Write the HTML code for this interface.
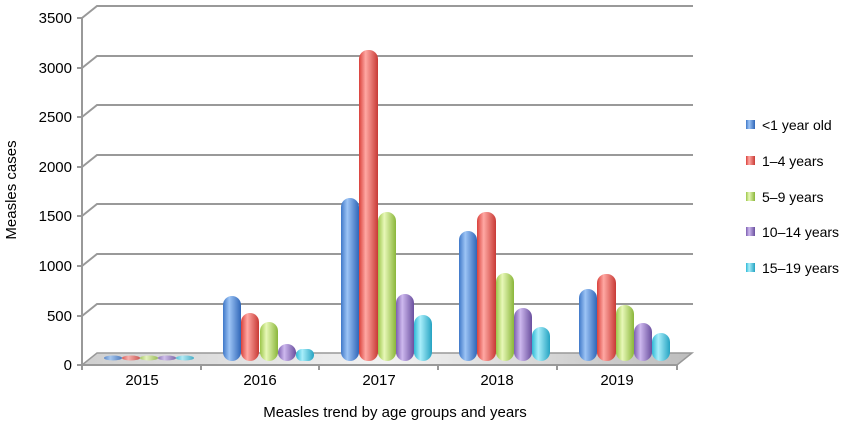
<!DOCTYPE html>
<html><head><meta charset="utf-8"><style>
body{margin:0;background:#fff}
svg{display:block;font-family:"Liberation Sans",Arial,sans-serif}
</style></head><body>
<svg width="850" height="428" viewBox="0 0 850 428">
<defs>
<linearGradient id="gb" x1="0" x2="1"><stop offset="0" stop-color="#3f78c8"/><stop offset=".35" stop-color="#9cc4f5"/><stop offset="1" stop-color="#2f66b8"/></linearGradient>
<linearGradient id="gr" x1="0" x2="1"><stop offset="0" stop-color="#d9413b"/><stop offset=".35" stop-color="#ffa8a3"/><stop offset="1" stop-color="#c83a35"/></linearGradient>
<linearGradient id="gg" x1="0" x2="1"><stop offset="0" stop-color="#9cc64a"/><stop offset=".35" stop-color="#e8f8b8"/><stop offset="1" stop-color="#8ab63a"/></linearGradient>
<linearGradient id="gp" x1="0" x2="1"><stop offset="0" stop-color="#7c5fb0"/><stop offset=".35" stop-color="#cdb8ee"/><stop offset="1" stop-color="#6a4f9e"/></linearGradient>
<linearGradient id="gc" x1="0" x2="1"><stop offset="0" stop-color="#2fb8d6"/><stop offset=".35" stop-color="#a8eefa"/><stop offset="1" stop-color="#25a3c2"/></linearGradient>
<linearGradient id="gf" x1="0" x2="1"><stop offset="0" stop-color="#cfcfcf"/><stop offset=".5" stop-color="#f2f2f2"/><stop offset="1" stop-color="#bdbdbd"/></linearGradient>
</defs>
<g stroke="#999" stroke-width="2" fill="none">
<path d="M82,18 L97,6 H693"/><path d="M82,68 L97,56 H693"/><path d="M82,117 L97,105 H693"/>
<path d="M82,167 L97,155 H693"/><path d="M82,216 L97,204 H693"/><path d="M82,266 L97,254 H693"/><path d="M82,316 L97,304 H693"/>
<line x1="82" y1="18" x2="82" y2="366"/>
</g>
<path d="M82,365 L97,353 H692 L677,365 Z" fill="url(#gf)" stroke="#999" stroke-width="1.5"/>
<g stroke="#999" stroke-width="2">
<line x1="82" y1="365" x2="677" y2="365"/>
<line x1="82" y1="365" x2="82" y2="370"/><line x1="201" y1="365" x2="201" y2="370"/><line x1="319" y1="365" x2="319" y2="370"/>
<line x1="438" y1="365" x2="438" y2="370"/><line x1="557" y1="365" x2="557" y2="370"/><line x1="677" y1="365" x2="677" y2="370"/>
<line x1="77" y1="18" x2="82" y2="18"/><line x1="77" y1="68" x2="82" y2="68"/><line x1="77" y1="117" x2="82" y2="117"/><line x1="77" y1="167" x2="82" y2="167"/><line x1="77" y1="216" x2="82" y2="216"/><line x1="77" y1="266" x2="82" y2="266"/><line x1="77" y1="316" x2="82" y2="316"/><line x1="77" y1="365" x2="82" y2="365"/>
</g>
<g font-size="15" fill="#000" text-anchor="end">
<text x="72" y="23">3500</text><text x="72" y="73">3000</text><text x="72" y="122">2500</text><text x="72" y="172">2000</text><text x="72" y="221">1500</text><text x="72" y="271">1000</text><text x="72" y="321">500</text><text x="72" y="370">0</text>
</g>
<g font-size="15" fill="#000" text-anchor="middle">
<text x="142" y="385">2015</text><text x="260" y="385">2016</text><text x="379" y="385">2017</text><text x="497" y="385">2018</text><text x="617" y="385">2019</text>
<text x="395" y="417">Measles trend by age groups and years</text>
<text transform="translate(16,190) rotate(-90)">Measles cases</text>
</g>
<g opacity=".8">
<ellipse cx="113" cy="358" rx="9" ry="2.5" fill="url(#gb)"/><ellipse cx="131" cy="358" rx="9" ry="2.5" fill="url(#gr)"/><ellipse cx="149" cy="358" rx="9" ry="2.5" fill="url(#gg)"/><ellipse cx="167" cy="358" rx="9" ry="2.5" fill="url(#gp)"/><ellipse cx="185" cy="358" rx="9" ry="2.5" fill="url(#gc)"/>
</g>
<g id="bars">
<!-- 2016 -->
<rect x="223" y="296" width="18" height="65" rx="9" fill="url(#gb)"/>
<rect x="241" y="313" width="18" height="48" rx="9" fill="url(#gr)"/>
<rect x="260" y="322" width="18" height="39" rx="9" fill="url(#gg)"/>
<rect x="278" y="344" width="18" height="17" rx="9" fill="url(#gp)"/>
<rect x="296" y="349" width="18" height="12" rx="6" fill="url(#gc)"/>
<!-- 2017 -->
<rect x="341" y="198" width="18" height="163" rx="9" fill="url(#gb)"/>
<rect x="359" y="50" width="19" height="311" rx="9" fill="url(#gr)"/>
<rect x="378" y="212" width="18" height="149" rx="9" fill="url(#gg)"/>
<rect x="396" y="294" width="18" height="67" rx="9" fill="url(#gp)"/>
<rect x="414" y="315" width="18" height="46" rx="9" fill="url(#gc)"/>
<!-- 2018 -->
<rect x="459" y="231" width="18" height="130" rx="9" fill="url(#gb)"/>
<rect x="477" y="212" width="19" height="149" rx="9" fill="url(#gr)"/>
<rect x="496" y="273" width="18" height="88" rx="9" fill="url(#gg)"/>
<rect x="514" y="308" width="18" height="53" rx="9" fill="url(#gp)"/>
<rect x="532" y="327" width="18" height="34" rx="9" fill="url(#gc)"/>
<!-- 2019 -->
<rect x="579" y="289" width="18" height="72" rx="9" fill="url(#gb)"/>
<rect x="597" y="274" width="19" height="87" rx="9" fill="url(#gr)"/>
<rect x="616" y="305" width="18" height="56" rx="9" fill="url(#gg)"/>
<rect x="634" y="323" width="18" height="38" rx="9" fill="url(#gp)"/>
<rect x="652" y="333" width="18" height="28" rx="9" fill="url(#gc)"/>
</g>
<g font-size="14" fill="#000">
<rect x="746" y="120" width="9" height="9" fill="url(#gb)"/><text x="762" y="130">&lt;1 year old</text>
<rect x="746" y="156" width="9" height="9" fill="url(#gr)"/><text x="762" y="166">1–4 years</text>
<rect x="746" y="192" width="9" height="9" fill="url(#gg)"/><text x="762" y="202">5–9 years</text>
<rect x="746" y="227" width="9" height="9" fill="url(#gp)"/><text x="762" y="237">10–14 years</text>
<rect x="746" y="263" width="9" height="9" fill="url(#gc)"/><text x="762" y="273">15–19 years</text>
</g>
</svg>
</body></html>
